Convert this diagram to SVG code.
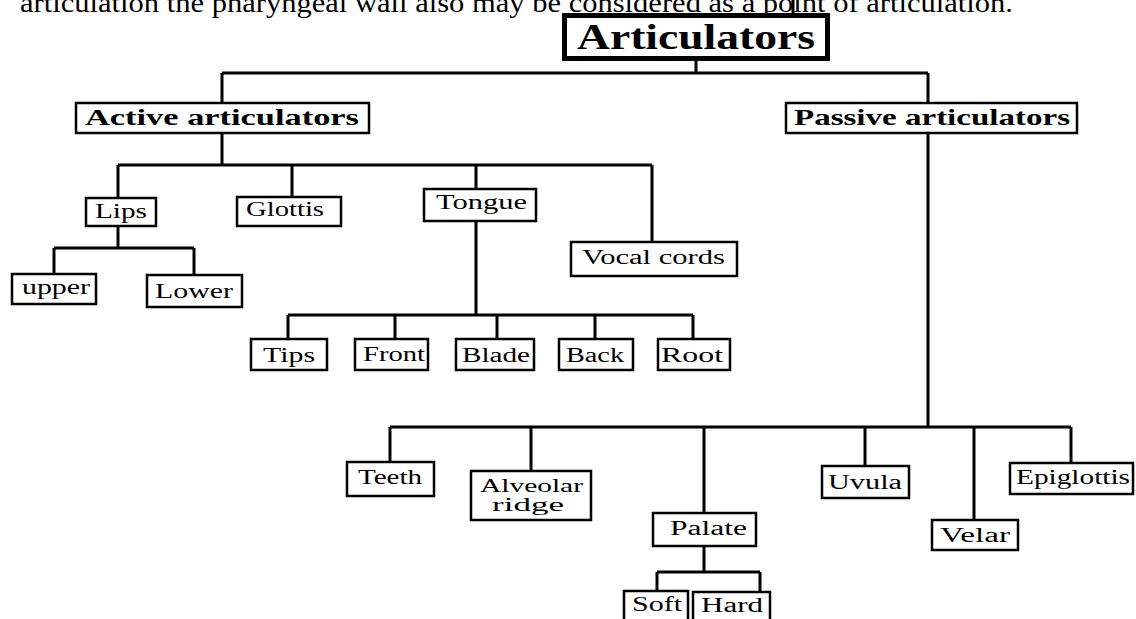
<svg xmlns="http://www.w3.org/2000/svg" width="1136" height="619" viewBox="0 0 1136 619">
<style>
  .box { fill: #fff; stroke: #000; stroke-width: 2.5; }
  .root { fill: #fff; stroke: #000; stroke-width: 5; }
  .lbl { font-family: "Liberation Serif", "Times New Roman", serif; font-size: 20px; fill: #000; }
  .bold { font-weight: bold; font-size: 23px; }
  .big { font-weight: bold; font-size: 36px; }
  .small { font-size: 18px; }
  .wires path { fill: none; stroke: #000; stroke-width: 3; }
  .top { font-family: "Liberation Serif", "Times New Roman", serif; font-size: 27px; fill: #000; }
</style>
<rect width="1136" height="619" fill="#fff"/>
<text class="top" x="20" y="12" textLength="993" lengthAdjust="spacingAndGlyphs">articulation the pharyngeal wall also may be considered as a point of articulation.</text>

<g class="wires" id="connectors">
  <path d="M793 0V14"/>
  <path d="M696 61V73M222 73H928M222 73V103M928 73V103"/>
  <path d="M222 133V165M118 165H652M118 165V198M292 165V197M476 165V189M652 165V242"/>
  <path d="M118 226V248M54 248H194M54 248V274M194 248V275"/>
  <path d="M476 221V315M288 315H693M288 315V339M395 315V339M497 315V339M595 315V339M693 315V339"/>
  <path d="M928 133V427M390 427H1071M390 427V462M531 427V471M704 427V513M865 427V466M974 427V520M1071 427V463"/>
  <path d="M704 546V572M657 572H760M657 572V591M760 572V592"/>
</g>

<g id="articulators">
  <rect class="root" x="564.5" y="15.5" width="263" height="43"/>
  <text class="lbl big" x="577" y="49" textLength="238" lengthAdjust="spacingAndGlyphs">Articulators</text>
</g>
<g id="active">
  <rect class="box" x="76" y="103" width="293" height="30"/>
  <text class="lbl bold" x="85" y="125" textLength="274" lengthAdjust="spacingAndGlyphs">Active articulators</text>
</g>
<g id="passive">
  <rect class="box" x="786" y="103" width="291" height="30"/>
  <text class="lbl bold" x="794" y="125" textLength="276" lengthAdjust="spacingAndGlyphs">Passive articulators</text>
</g>
<g id="lips">
  <rect class="box" x="86" y="198" width="70" height="28"/>
  <text class="lbl" x="95" y="218" textLength="52" lengthAdjust="spacingAndGlyphs">Lips</text>
</g>
<g id="glottis">
  <rect class="box" x="237" y="197" width="104" height="29"/>
  <text class="lbl" x="246" y="216" textLength="78" lengthAdjust="spacingAndGlyphs">Glottis</text>
</g>
<g id="tongue">
  <rect class="box" x="424" y="189" width="112" height="32"/>
  <text class="lbl" x="436" y="209" textLength="91" lengthAdjust="spacingAndGlyphs">Tongue</text>
</g>
<g id="vocal-cords">
  <rect class="box" x="571" y="242" width="166" height="34"/>
  <text class="lbl" x="582" y="264" textLength="143" lengthAdjust="spacingAndGlyphs">Vocal cords</text>
</g>
<g id="upper">
  <rect class="box" x="12" y="274" width="84" height="30"/>
  <text class="lbl" x="22" y="294" textLength="68" lengthAdjust="spacingAndGlyphs">upper</text>
</g>
<g id="lower">
  <rect class="box" x="147" y="275" width="95" height="32"/>
  <text class="lbl" x="155" y="298" textLength="78" lengthAdjust="spacingAndGlyphs">Lower</text>
</g>
<g id="tips">
  <rect class="box" x="251" y="339" width="76" height="31"/>
  <text class="lbl" x="263" y="362" textLength="52" lengthAdjust="spacingAndGlyphs">Tips</text>
</g>
<g id="front">
  <rect class="box" x="355" y="339" width="73" height="31"/>
  <text class="lbl" x="363" y="361" textLength="62" lengthAdjust="spacingAndGlyphs">Front</text>
</g>
<g id="blade">
  <rect class="box" x="456" y="339" width="78" height="31"/>
  <text class="lbl" x="462" y="362" textLength="68" lengthAdjust="spacingAndGlyphs">Blade</text>
</g>
<g id="back">
  <rect class="box" x="559" y="339" width="74" height="31"/>
  <text class="lbl" x="566" y="362" textLength="58" lengthAdjust="spacingAndGlyphs">Back</text>
</g>
<g id="root">
  <rect class="box" x="658" y="339" width="72" height="31"/>
  <text class="lbl" x="661" y="362" textLength="62" lengthAdjust="spacingAndGlyphs">Root</text>
</g>
<g id="teeth">
  <rect class="box" x="347" y="462" width="87" height="34"/>
  <text class="lbl" x="358" y="484" textLength="64" lengthAdjust="spacingAndGlyphs">Teeth</text>
</g>
<g id="alveolar-ridge">
  <rect class="box" x="471" y="471" width="120" height="49"/>
  <text class="lbl small" x="480" y="492" textLength="103" lengthAdjust="spacingAndGlyphs">Alveolar</text>
  <text class="lbl small" x="492" y="511" textLength="72" lengthAdjust="spacingAndGlyphs">ridge</text>
</g>
<g id="palate">
  <rect class="box" x="653" y="513" width="103" height="33"/>
  <text class="lbl" x="670" y="535" textLength="77" lengthAdjust="spacingAndGlyphs">Palate</text>
</g>
<g id="soft">
  <rect class="box" x="624" y="591" width="64" height="30"/>
  <text class="lbl" x="632" y="611" textLength="50" lengthAdjust="spacingAndGlyphs">Soft</text>
</g>
<g id="hard">
  <rect class="box" x="693" y="592" width="77" height="30"/>
  <text class="lbl" x="701" y="612" textLength="62" lengthAdjust="spacingAndGlyphs">Hard</text>
</g>
<g id="uvula">
  <rect class="box" x="822" y="466" width="87" height="32"/>
  <text class="lbl" x="828" y="489" textLength="74" lengthAdjust="spacingAndGlyphs">Uvula</text>
</g>
<g id="velar">
  <rect class="box" x="932" y="520" width="86" height="30"/>
  <text class="lbl" x="940" y="542" textLength="70" lengthAdjust="spacingAndGlyphs">Velar</text>
</g>
<g id="epiglottis">
  <rect class="box" x="1010" y="463" width="123" height="31"/>
  <text class="lbl" x="1016" y="484" textLength="114" lengthAdjust="spacingAndGlyphs">Epiglottis</text>
</g>
</svg>
